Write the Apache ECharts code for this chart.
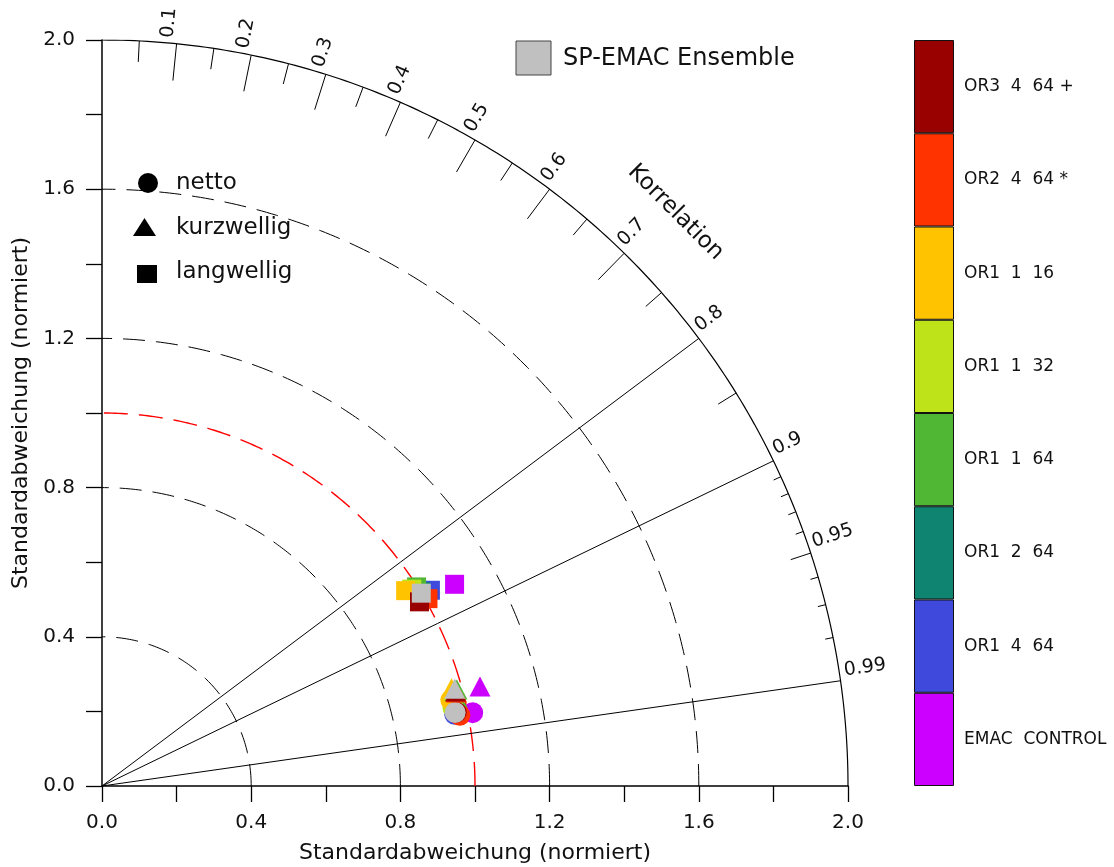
<!DOCTYPE html>
<html>
<head>
<meta charset="utf-8">
<script src="https://cdn.jsdelivr.net/npm/echarts/dist/echarts.min.js"></script>
<style>
html, body { margin: 0; padding: 0; background: #fff; }
#chart { width: 1114px; height: 867px; }
</style>
</head>
<body>
<div id="chart"></div>
<script>
// Model runs, top to bottom as listed in the colour bar
const models = ['OR3 4 64 +', 'OR2 4 64 *', 'OR1 1 16', 'OR1 1 32', 'OR1 1 64', 'OR1 2 64', 'OR1 4 64', 'EMAC CONTROL'];
const modelColors = ['#990000', '#ff3300', '#ffc300', '#bee319', '#50b734', '#0f8470', '#3f4adc', '#cc00ff'];
const ensembleName = 'SP-EMAC Ensemble';
const ensembleColor = '#c0c0c0';

// Normalised standard deviation and correlation, same order as models
const nettoStd  = [0.970, 0.978, 0.963, 0.964, 0.974, 0.969, 0.965, 1.013];
const nettoCorr = [0.979, 0.981, 0.971, 0.976, 0.978, 0.978, 0.980, 0.981];
const kurzStd   = [0.981, 0.983, 0.973, 0.977, 0.986, 0.983, 0.980, 1.048];
const kurzCorr  = [0.966, 0.967, 0.963, 0.965, 0.965, 0.965, 0.965, 0.967];
const langStd   = [0.984, 1.008, 0.968, 0.984, 0.998, 1.001, 1.025, 1.089];
const langCorr  = [0.865, 0.867, 0.841, 0.844, 0.845, 0.854, 0.859, 0.868];
// Ensemble mean [std, corr]
const ensNetto = [0.967, 0.979];
const ensKurz  = [0.981, 0.964];
const ensLang  = [1.000, 0.856];

// Axes and reference lines
const stdLabelValues = [0.0, 0.4, 0.8, 1.2, 1.6, 2.0];
const stdArcs = [0.4, 0.8, 1.2, 1.6];
const refStd = 1.0;
const stdMax = 2.0;
const corrMajor = [0.1, 0.2, 0.3, 0.4, 0.5, 0.6, 0.7];
const corrMinor = [0.05, 0.15, 0.25, 0.35, 0.45, 0.55, 0.65, 0.75, 0.85, 0.95];
const corrFine  = [0.91, 0.92, 0.93, 0.94, 0.96, 0.97, 0.98];
const corrLines = [0.8, 0.9, 0.99];
const corrLabels = ['0.1', '0.2', '0.3', '0.4', '0.5', '0.6', '0.7', '0.8', '0.9', '0.95', '0.99'];

const FONT = '"DejaVu Sans", sans-serif';
const TEXT = '#111';

function toXY(std, corr) {
  return [std * corr, std * Math.sqrt(Math.max(0, 1 - corr * corr))];
}
function arcPoints(r) {
  const pts = [];
  for (let a = 0; a <= 90.0001; a += 0.5) {
    const t = a * Math.PI / 180;
    pts.push([r * Math.cos(t), r * Math.sin(t)]);
  }
  return pts;
}
// wider gaps between words, as in the plotting font
const spaced = s => s.replace(/(\w) (?=\w)/g, '$1  ');

// points drawn from the last model upwards so the first model ends on top, ensemble last
function pointData(stds, corrs, ens) {
  const out = [];
  for (let i = models.length - 1; i >= 0; i--) {
    out.push({ name: models[i], value: toXY(stds[i], corrs[i]), itemStyle: { color: modelColors[i] } });
  }
  out.push({ name: ensembleName, value: toXY(ens[0], ens[1]), itemStyle: { color: ensembleColor } });
  return out;
}

const series = [];

// standard deviation arcs
stdArcs.forEach(r => series.push({
  type: 'line', data: arcPoints(r), showSymbol: false, silent: true, z: 1,
  lineStyle: { color: '#000', width: 1, type: [22, 11] }
}));
series.push({
  type: 'line', data: arcPoints(refStd), showSymbol: false, silent: true, z: 1,
  lineStyle: { color: '#ff0000', width: 1.4, type: [24, 11] }
});
// outer arc
series.push({
  type: 'line', data: arcPoints(stdMax), showSymbol: false, silent: true, z: 1,
  lineStyle: { color: '#000', width: 1.2 }
});
// correlation rays
corrLines.forEach(c => series.push({
  type: 'line', data: [[0, 0], toXY(stdMax, c)], showSymbol: false, silent: true, z: 1,
  lineStyle: { color: '#000', width: 1 }
}));

// correlation ticks on the outer arc
const tickLen = [37, 21, 8];
const tickData = []
  .concat(corrMajor.map(c => [c, 0]))
  .concat(corrMinor.map(c => [c, 1]))
  .concat(corrFine.map(c => [c, 2]));
series.push({
  type: 'custom', coordinateSystem: 'cartesian2d', silent: true, z: 1,
  data: tickData,
  renderItem: function (params, api) {
    const c = api.value(0);
    const L = tickLen[api.value(1)];
    const s = Math.sqrt(1 - c * c);
    const p = api.coord(toXY(stdMax, c));
    return {
      type: 'line',
      shape: { x1: p[0], y1: p[1], x2: p[0] - L * c, y2: p[1] + L * s },
      style: { stroke: '#000', lineWidth: 1 }
    };
  }
});
// correlation tick labels
series.push({
  type: 'custom', coordinateSystem: 'cartesian2d', silent: true, z: 1,
  data: corrLabels.map(t => [parseFloat(t)]),
  renderItem: function (params, api) {
    const c = api.value(0);
    const s = Math.sqrt(1 - c * c);
    const p = api.coord(toXY(stdMax, c));
    const off = 5;
    return {
      type: 'text',
      x: p[0] + off * c, y: p[1] - off * s,
      rotation: Math.acos(c),
      style: {
        text: corrLabels[params.dataIndex], fill: TEXT, font: '19px ' + FONT,
        align: 'left', verticalAlign: 'bottom', textAlign: 'left', textVerticalAlign: 'bottom'
      }
    };
  }
});
// correlation axis title
series.push({
  type: 'custom', coordinateSystem: 'cartesian2d', silent: true, z: 1,
  data: [[2.175]],
  renderItem: function (params, api) {
    const r = api.value(0);
    const p = api.coord([r * Math.SQRT1_2, r * Math.SQRT1_2]);
    return {
      type: 'text', x: p[0], y: p[1], rotation: -Math.PI / 4,
      style: {
        text: 'Korrelation', fill: TEXT, font: '23px ' + FONT,
        align: 'center', verticalAlign: 'middle', textAlign: 'center', textVerticalAlign: 'middle'
      }
    };
  }
});

// model points
const pointStyle = { opacity: 1 };
series.push({ name: 'netto', type: 'scatter', symbol: 'circle', symbolSize: 21, z: 5, itemStyle: pointStyle, data: pointData(nettoStd, nettoCorr, ensNetto) });
series.push({ name: 'kurzwellig', type: 'scatter', symbol: 'triangle', symbolSize: [21, 20], z: 5, itemStyle: pointStyle, data: pointData(kurzStd, kurzCorr, ensKurz) });
series.push({ name: 'langwellig', type: 'scatter', symbol: 'rect', symbolSize: 19, z: 5, itemStyle: pointStyle, data: pointData(langStd, langCorr, ensLang) });

// colour bar
series.push({
  type: 'bar', xAxisIndex: 1, yAxisIndex: 1, barWidth: '100%', silent: true,
  data: models.map((m, i) => ({ value: 1, itemStyle: { color: modelColors[i] } })),
  itemStyle: { borderColor: '#111', borderWidth: 1 }
});

const axisCommon = {
  type: 'value', min: 0, max: stdMax, interval: 0.2,
  axisLine: { show: true, lineStyle: { color: '#000', width: 1.5 } },
  axisTick: { show: true, length: 16, inside: false, lineStyle: { color: '#000', width: 1.3 } },
  splitLine: { show: false },
  axisLabel: {
    margin: 27, color: TEXT, fontFamily: FONT, fontSize: 20,
    formatter: v => stdLabelValues.some(s => Math.abs(s - v) < 1e-6) ? v.toFixed(1) : ''
  },
  nameLocation: 'middle',
  nameTextStyle: { color: TEXT, fontFamily: FONT, fontSize: 22 }
};

const option = {
  animation: false,
  backgroundColor: '#fff',
  grid: [
    { left: 102, top: 40, width: 746, height: 746, containLabel: false, outerBoundsMode: 'none' },
    { left: 914, top: 40, width: 40, height: 746, containLabel: false, outerBoundsMode: 'none' }
  ],
  xAxis: [
    Object.assign({}, axisCommon, { gridIndex: 0, name: 'Standardabweichung (normiert)', nameGap: 56 }),
    { gridIndex: 1, type: 'value', min: 0, max: 1, show: false }
  ],
  yAxis: [
    Object.assign({}, axisCommon, { gridIndex: 0, name: 'Standardabweichung (normiert)', nameGap: 68 }),
    {
      gridIndex: 1, type: 'category', data: models, inverse: true, position: 'right',
      axisLine: { show: false }, axisTick: { show: false }, splitLine: { show: false },
      axisLabel: { margin: 10, color: TEXT, fontFamily: FONT, fontSize: 17, formatter: spaced }
    }
  ],
  graphic: [
    // ensemble key
    { type: 'rect', shape: { x: 516, y: 41, width: 35, height: 34 }, style: { fill: ensembleColor, stroke: '#444', lineWidth: 1 } },
    { type: 'text', x: 563, y: 59, style: { text: ensembleName, fill: TEXT, font: '24px ' + FONT, verticalAlign: 'middle', textVerticalAlign: 'middle' } },
    // symbol key
    { type: 'circle', shape: { cx: 148, cy: 183, r: 10 }, style: { fill: '#000' } },
    { type: 'text', x: 176, y: 183, style: { text: 'netto', fill: TEXT, font: '23px ' + FONT, verticalAlign: 'middle', textVerticalAlign: 'middle' } },
    { type: 'polygon', shape: { points: [[144.5, 218], [133, 236], [156, 236]] }, style: { fill: '#000' } },
    { type: 'text', x: 176, y: 228, style: { text: 'kurzwellig', fill: TEXT, font: '23px ' + FONT, verticalAlign: 'middle', textVerticalAlign: 'middle' } },
    { type: 'rect', shape: { x: 137, y: 265, width: 20, height: 18 }, style: { fill: '#000' } },
    { type: 'text', x: 176, y: 272, style: { text: 'langwellig', fill: TEXT, font: '23px ' + FONT, verticalAlign: 'middle', textVerticalAlign: 'middle' } }
  ],
  series: series
};

const chart = echarts.init(document.getElementById('chart'), null, { renderer: 'canvas' });
chart.setOption(option);
</script>
</body>
</html>
